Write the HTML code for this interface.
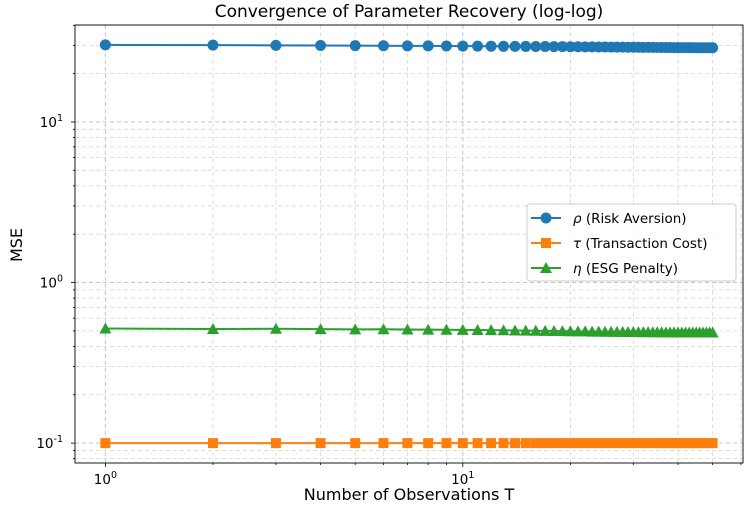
<!DOCTYPE html>
<html><head><meta charset="utf-8"><style>
body{margin:0;background:#fff;}
svg{display:block;font-family:"DejaVu Sans","Liberation Sans",sans-serif;}
</style></head><body>
<svg id="chart" width="747" height="513" viewBox="0 0 747 513"></svg>
<script>
const T = Array.from({length:50},(_,i)=>i+1);
const rho = [30.2,30.1,30.0,29.95,29.9,29.85,29.8,29.78,29.75,29.7,29.68,29.65,29.6,29.58,29.55,29.52,29.5,29.48,29.45,29.42,29.4,29.38,29.35,29.33,29.3,29.28,29.26,29.24,29.22,29.2,29.18,29.16,29.15,29.13,29.12,29.1,29.09,29.08,29.07,29.06,29.05,29.04,29.03,29.02,29.01,29.0,29.0,29.0,29.0,29.0];
const tau = Array(50).fill(0.1);
const eta = [0.517,0.514,0.515,0.513,0.511,0.512,0.510,0.509,0.508,0.507,0.506,0.505,0.504,0.503,0.502,0.501,0.500,0.499,0.498,0.497,0.496,0.496,0.495,0.495,0.494,0.494,0.493,0.493,0.492,0.492,0.491,0.491,0.491,0.490,0.490,0.490,0.489,0.489,0.489,0.489,0.488,0.488,0.488,0.488,0.488,0.488,0.488,0.488,0.488,0.488];
const xTicks = [1,10];
const yTicks = [0.1,1,10];
const L=75,R=743,TOP=25,B=463;
const xMin=-0.085,xMax=Math.log10(50)+0.085,yMin=-1.124,yMax=1.604;
const sx=v=>L+(Math.log10(v)-xMin)/(xMax-xMin)*(R-L);
const sy=v=>B-(Math.log10(v)-yMin)/(yMax-yMin)*(B-TOP);
const svg=document.getElementById('chart');const NS='http://www.w3.org/2000/svg';
function mk(tag,attrs,parent){const e=document.createElementNS(NS,tag);for(const k in attrs)e.setAttribute(k,attrs[k]);(parent||svg).appendChild(e);return e;}
const grid=mk('g',{});


for(let d=0;d<=1;d++)for(let m=1;m<=9;m++){const v=m*Math.pow(10,d);if(Math.log10(v)>xMax)continue;const x=sx(v);
 mk('line',{x1:x,x2:x,y1:TOP,y2:B,stroke:m==1?'#bdbdbd':'#d6d6d6','stroke-dasharray':'4,3','stroke-width':m==1?0.9:0.8},grid);
 mk('line',{x1:x,x2:x,y1:B,y2:B+(m==1?4:2),stroke:'#000','stroke-width':0.8});}
for(let d=-2;d<=1;d++)for(let m=1;m<=9;m++){const v=m*Math.pow(10,d);const lv=Math.log10(v);if(lv<yMin||lv>yMax)continue;const y=sy(v);
 mk('line',{x1:L,x2:R,y1:y,y2:y,stroke:m==1?'#bdbdbd':'#d6d6d6','stroke-dasharray':'4,3','stroke-width':m==1?0.9:0.8},grid);
 mk('line',{x1:L,x2:L-(m==1?4:2),y1:y,y2:y,stroke:'#000','stroke-width':0.8});}
mk('rect',{x:L,y:TOP,width:R-L,height:B-TOP,fill:'none',stroke:'#000','stroke-width':0.9});
xTicks.forEach((v,i)=>{const t=mk('text',{x:sx(v),y:484,'text-anchor':'middle','font-size':13.5});t.innerHTML='10<tspan dy="-6" font-size="9.5">'+Math.round(Math.log10(v))+'</tspan>';
 
 });
yTicks.forEach(v=>{const t=mk('text',{x:63,y:sy(v)+5,'text-anchor':'end','font-size':13.5});t.innerHTML='10<tspan dy="-6" font-size="9.5">'+Math.round(Math.log10(v))+'</tspan>';
 
 });
function series(vals,color,marker,name){const g=mk('g',{});
 
 
 mk('polyline',{points:T.map((t,i)=>sx(t)+','+sy(vals[i])).join(' '),fill:'none',stroke:color,'stroke-width':2},g);
 T.forEach((t,i)=>drawMarker(g,sx(t),sy(vals[i]),color,marker));}
function drawMarker(g,x,y,c,m){if(m=='o')mk('circle',{cx:x,cy:y,r:5.5,fill:c},g);
 else if(m=='s')mk('rect',{x:x-5,y:y-5,width:10,height:10,fill:c},g);
 else mk('polygon',{points:`${x},${y-6} ${x+6},${y+5} ${x-6},${y+5}`,fill:c},g);}
series(rho,'#1f77b4','o','series-rho');
series(tau,'#ff7f0e','s','series-tau');
series(eta,'#2ca02c','^','series-eta');
const title=mk('text',{x:409,y:17,'text-anchor':'middle','font-size':17});title.textContent='Convergence of Parameter Recovery (log-log)';


const xl=mk('text',{x:409,y:500,'text-anchor':'middle','font-size':16});xl.textContent='Number of Observations T';


const yl=mk('text',{x:22,y:245,'text-anchor':'middle','font-size':16,transform:'rotate(-90 22 245)'});yl.textContent='MSE';


const lg=mk('g',{});


mk('rect',{x:527,y:204,width:209,height:77,rx:3,fill:'#fff','fill-opacity':0.85,stroke:'#ccc'},lg);
[['ρ',' (Risk Aversion)','#1f77b4','o'],['τ',' (Transaction Cost)','#ff7f0e','s'],['η',' (ESG Penalty)','#2ca02c','^']].forEach((e,i)=>{
 const y=218+i*25;const g=mk('g',{},lg);
 
 
 mk('line',{x1:531,x2:561,y1:y,y2:y,stroke:e[2],'stroke-width':2},g);drawMarker(g,546,y,e[2],e[3]);
 const t=mk('text',{x:573,y:y+5,'font-size':13.5},g);t.innerHTML='<tspan font-style="italic">'+e[0]+'</tspan>'+e[1];});
</script>
</body></html>
